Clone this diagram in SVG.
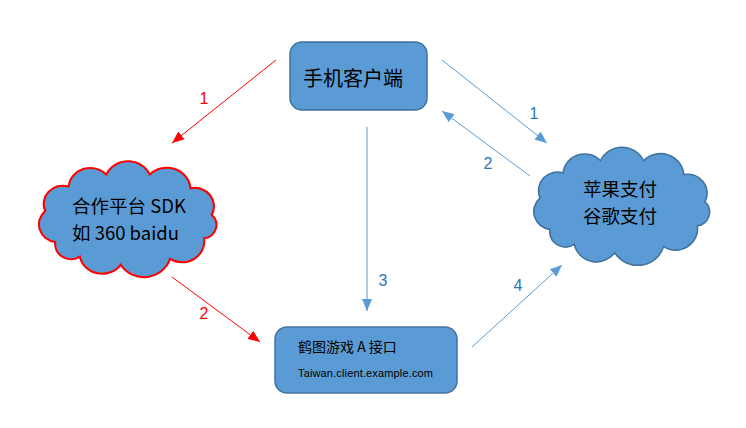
<svg xmlns="http://www.w3.org/2000/svg" width="746" height="428" viewBox="0 0 746 428">
<style>
.box{fill:#5b9bd5;stroke:#41719c;stroke-width:1.5}
.cloud{fill:#5b9bd5;vector-effect:non-scaling-stroke}
.t{font-family:"Noto Sans CJK SC","Liberation Sans",sans-serif;fill:#000}
.lbl{font-family:"Liberation Sans","Open Sans",sans-serif;font-size:16px;text-anchor:middle}
.red{stroke:#ff0000;stroke-width:1;fill:none}
.blue{stroke:#5b9bd5;stroke-width:1;fill:none}
</style>
<defs>
<marker id="ar" viewBox="0 0 12 10" refX="12" refY="5" markerWidth="12" markerHeight="10" markerUnits="userSpaceOnUse" orient="auto"><path d="M0,0 L12,5 L0,10 Z" fill="#ff0000"/></marker>
<marker id="ab" viewBox="0 0 12 10" refX="12" refY="5" markerWidth="12" markerHeight="10" markerUnits="userSpaceOnUse" orient="auto"><path d="M0,0 L12,5 L0,10 Z" fill="#5b9bd5"/></marker>
<path id="cloudShape" d="M58.7,242 A17.8,17.8 0 0 1 49.2,211 A18.2,18.2 0 0 1 71.4,186.5 A20.8,20.8 0 0 1 107.3,174.6 A22.8,22.8 0 0 1 148.7,174.6 A22.6,22.6 0 0 1 187.5,188.2 A18.5,18.5 0 0 1 207.7,215 A13.5,13.5 0 0 1 200.5,238.4 A21.1,21.1 0 0 1 168,258.8 A26,26 0 0 1 121,264.8 A21.8,21.8 0 0 1 82.1,256.7 A15.2,15.2 0 0 1 58.7,242 Z"/>
</defs>

<g id="connectors">
<line class="red" x1="276" y1="60" x2="172" y2="143" marker-end="url(#ar)"/>
<line class="red" x1="172" y1="277" x2="260" y2="342" marker-end="url(#ar)"/>
<line class="blue" x1="442" y1="60" x2="547" y2="143" marker-end="url(#ab)"/>
<line class="blue" x1="530" y1="176" x2="442" y2="111" marker-end="url(#ab)"/>
<line class="blue" x1="367" y1="127" x2="367" y2="311" marker-end="url(#ab)"/>
<line class="blue" x1="472" y1="347" x2="562" y2="265" marker-end="url(#ab)"/>
<text class="lbl" x="204" y="104" fill="#ff0000">1</text>
<text class="lbl" x="204" y="319" fill="#ff0000">2</text>
<text class="lbl" x="534" y="119" fill="#2e75b6">1</text>
<text class="lbl" x="488" y="169" fill="#2e75b6">2</text>
<text class="lbl" x="383" y="286" fill="#2e75b6">3</text>
<text class="lbl" x="518" y="291" fill="#2e75b6">4</text>
</g>

<g id="mobile-client">
<rect class="box" x="290" y="42" width="137" height="68" rx="12"/>
<text class="t" x="303" y="86" font-size="20">手机客户端</text>
</g>

<g id="partner-sdk">
<use href="#cloudShape" transform="translate(128,219) scale(1.05,1.0) translate(-128,-219)" class="cloud" stroke="#ff0000" stroke-width="2"/>
<text class="t" x="72" y="213" font-size="18.5">合作平台 SDK</text>
<text class="t" x="72" y="240" font-size="18.5">如 360 baidu</text>
</g>

<g id="payment">
<use href="#cloudShape" transform="translate(622,206) scale(1.04,1.02) translate(-128,-219)" class="cloud" stroke="#41719c" stroke-width="1.5"/>
<text class="t" x="620" y="196" font-size="18.5" text-anchor="middle">苹果支付</text>
<text class="t" x="620" y="223" font-size="18.5" text-anchor="middle">谷歌支付</text>
</g>

<g id="game-api">
<rect class="box" x="275" y="327" width="182" height="66" rx="12"/>
<text class="t" x="298" y="352" font-size="14">鹤图游戏 A 接口</text>
<text x="298" y="377" font-size="11" font-family="Liberation Sans, sans-serif" textLength="135">Taiwan.client.example.com</text>
</g>
</svg>
